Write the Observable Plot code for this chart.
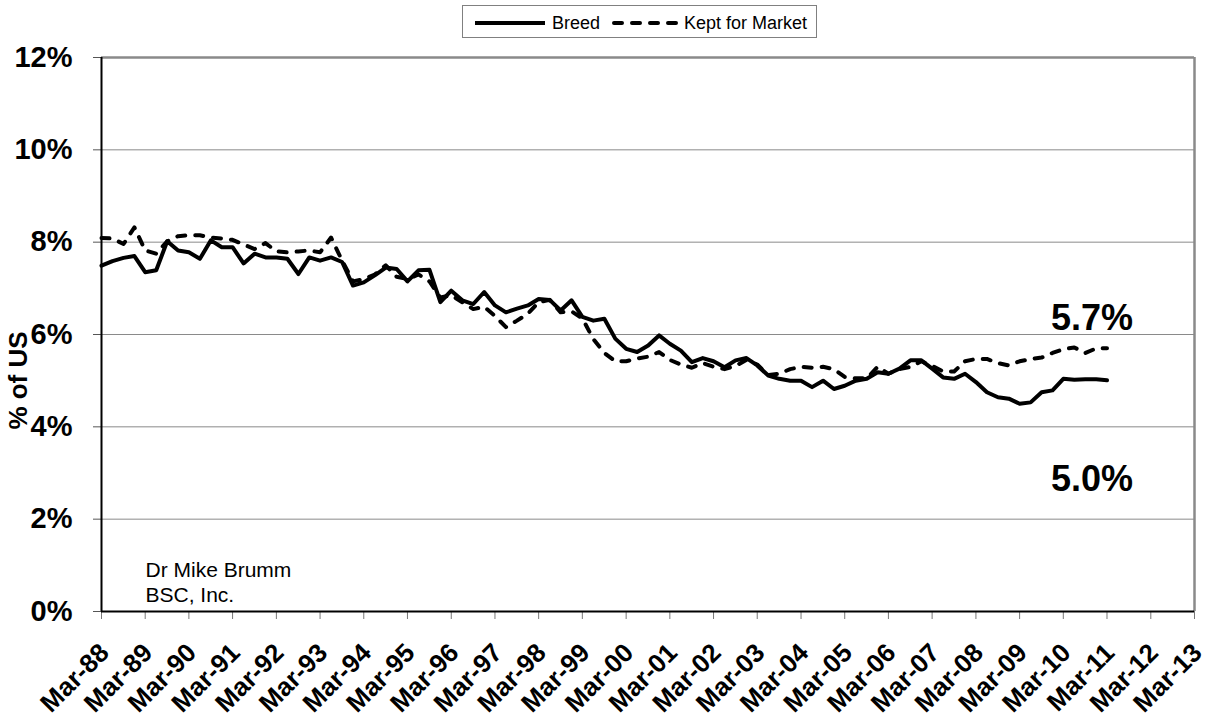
<!DOCTYPE html>
<html>
<head>
<meta charset="utf-8">
<script src="https://cdn.jsdelivr.net/npm/d3@7"></script>
<script src="https://cdn.jsdelivr.net/npm/@observablehq/plot@0.6"></script>
<style>
  body { margin: 0; background: #fff; font-family: "Liberation Sans", Arial, sans-serif; }
  #wrap { width: 1207px; height: 717px; position: relative; overflow: hidden; background: #fff; }
  #legend { position: relative; width: 1207px; height: 48px; }
  #legbox { position: absolute; left: 462px; top: 5px; width: 355px; height: 33px; border: 1px solid #808080; box-sizing: border-box; }
  .lg-sample { position: absolute; }
  .lg-text { position: absolute; font-size: 18px; line-height: 18px; color: #000; white-space: nowrap; }
</style>
</head>
<body>
<div id="wrap">
  <div id="legend"><div id="legbox"></div></div>
  <div id="chart"></div>
</div>
<script>
// ---- data (quarterly, Mar-88 .. Mar-11), % of US ----
const seriesNames = ["Breed", "Kept for Market"];
const startYear = 1988;
const breed = [
  7.49, 7.59, 7.66, 7.70, 7.35, 7.39, 8.02, 7.82, 7.78, 7.64,
  8.04, 7.89, 7.89, 7.54, 7.75, 7.67, 7.67, 7.64, 7.31, 7.67,
  7.60, 7.67, 7.57, 7.06, 7.13, 7.28, 7.45, 7.42, 7.15, 7.39,
  7.40, 6.70, 6.95, 6.74, 6.66, 6.92, 6.63, 6.48, 6.56, 6.63,
  6.77, 6.75, 6.52, 6.74, 6.38, 6.30, 6.34, 5.91, 5.69, 5.62,
  5.76, 5.98, 5.80, 5.65, 5.40, 5.49, 5.42, 5.29, 5.44, 5.49,
  5.33, 5.11, 5.04, 5.00, 5.00, 4.86, 5.00, 4.82, 4.89, 5.00,
  5.04, 5.18, 5.15, 5.26, 5.44, 5.44, 5.26, 5.07, 5.04, 5.15,
  4.97, 4.75, 4.64, 4.61, 4.50, 4.53, 4.75, 4.79, 5.04, 5.02,
  5.03, 5.03, 5.01
];
const market = [
  8.09, 8.08, 7.96, 8.32, 7.82, 7.75, 8.02, 8.13, 8.15, 8.15,
  8.10, 8.08, 8.05, 7.95, 7.85, 7.98, 7.80, 7.78, 7.80, 7.82,
  7.78, 8.10, 7.60, 7.15, 7.20, 7.30, 7.50, 7.25, 7.20, 7.30,
  7.15, 6.80, 6.85, 6.70, 6.55, 6.60, 6.40, 6.16, 6.30, 6.45,
  6.70, 6.75, 6.48, 6.50, 6.35, 5.90, 5.60, 5.42, 5.42, 5.48,
  5.52, 5.62, 5.45, 5.35, 5.28, 5.38, 5.30, 5.25, 5.32, 5.45,
  5.35, 5.12, 5.15, 5.25, 5.30, 5.28, 5.30, 5.25, 5.08, 5.05,
  5.05, 5.30, 5.15, 5.25, 5.30, 5.42, 5.32, 5.20, 5.20, 5.42,
  5.47, 5.47, 5.38, 5.33, 5.42, 5.47, 5.50, 5.60, 5.68, 5.72,
  5.60, 5.70, 5.70
];
const xTickYears = d3.range(1988, 2014);
const yTickValues = [0, 2, 4, 6, 8, 10, 12];
const yTitle = "% of US";
const creditLines = ["Dr Mike Brumm", "BSC, Inc."];

// ---- derived tables ----
const start = new Date(Date.UTC(startYear, 2, 1));
const qDate = i => d3.utcMonth.offset(start, 3 * i);
const breedRows = breed.map((v, i) => ({date: qDate(i), value: v}));
const marketRows = market.map((v, i) => ({date: qDate(i), value: v}));
const xTicks = xTickYears.map(y => new Date(Date.UTC(y, 2, 1)));
const xMin = xTicks[0], xMax = xTicks[xTicks.length - 1];
const fmt = d3.utcFormat("%b-%y");
const lastMarket = [marketRows[marketRows.length - 1]];
const lastBreed = [breedRows[breedRows.length - 1]];
const pct1 = d => d.value.toFixed(1) + "%";

const FONT = "'Liberation Sans', Arial, sans-serif";

// ---- legend (HTML above the SVG) ----
const legend = document.getElementById("legend");
const legItems = [
  {name: seriesNames[0], dash: null, x1: 475, x2: 545, tx: 552},
  {name: seriesNames[1], dash: "8,10", x1: 614, x2: 679, tx: 684}
];
legItems.forEach(it => {
  const s = d3.select(legend).append("svg").attr("class", "lg-sample")
    .attr("width", it.x2 - it.x1 + 6).attr("height", 10)
    .style("left", (it.x1 - 3) + "px").style("top", "18px");
  s.append("line").attr("x1", 3).attr("x2", it.x2 - it.x1 + 3).attr("y1", 5).attr("y2", 5)
    .attr("stroke", "#000").attr("stroke-width", 4)
    .attr("stroke-linecap", it.dash ? "round" : "butt")
    .attr("stroke-dasharray", it.dash);
  d3.select(legend).append("span").attr("class", "lg-text").text(it.name)
    .style("left", it.tx + "px").style("top", "14px");
});

// ---- chart ----
const chart = Plot.plot({
  width: 1207,
  height: 669,
  marginTop: 9,
  marginBottom: 106,
  marginLeft: 101,
  marginRight: 13,
  style: {fontFamily: FONT, background: "white", overflow: "visible"},
  x: {type: "utc", domain: [xMin, xMax], axis: null},
  y: {domain: [0, 12], axis: null},
  marks: [
    Plot.ruleY(yTickValues.filter(d => d > 0 && d < 12), {stroke: "#8a8a8a", strokeWidth: 1}),
    Plot.ruleY([12], {stroke: "#8a8a8a", strokeWidth: 2.5}),
    Plot.ruleX([xMax], {stroke: "#8a8a8a", strokeWidth: 2.5}),
    Plot.axisY({ticks: yTickValues, tickSize: 8, fill: "none", stroke: "#555", label: null}),
    Plot.axisX({ticks: xTicks, tickSize: 8, fill: "none", stroke: "#777", label: null}),
    Plot.ruleX([xMin], {stroke: "#000", strokeWidth: 2}),
    Plot.ruleY([0], {stroke: "#000", strokeWidth: 2}),
    Plot.line(marketRows, {x: "date", y: "value", stroke: "#000", strokeWidth: 4,
      strokeDasharray: "8,10", strokeLinecap: "round", strokeLinejoin: "round"}),
    Plot.line(breedRows, {x: "date", y: "value", stroke: "#000", strokeWidth: 4,
      strokeLinejoin: "round"}),
    // y tick labels
    Plot.text(yTickValues, {y: d => d, frameAnchor: "left", dx: -29, textAnchor: "end",
      text: d => d + "%", fontSize: 29, fontWeight: "bold", fill: "#000"}),
    // x tick labels
    Plot.text(xTicks, {x: d => d, frameAnchor: "bottom", rotate: -45, textAnchor: "end",
      lineAnchor: "middle", dx: 3, dy: 37, text: d => fmt(d), fontSize: 26, fontWeight: "bold", fill: "#000"}),
    // y title
    Plot.text([yTitle], {frameAnchor: "left", rotate: -90, dx: -83, dy: 46, lineAnchor: "middle",
      textAnchor: "middle", fontSize: 26, fontWeight: "bold", fill: "#000"}),
    // end labels
    Plot.text(lastMarket, {x: "date", y: "value", dx: -15, dy: -30, text: pct1,
      textAnchor: "middle", lineAnchor: "middle", fontSize: 36, fontWeight: "bold", fill: "#000"}),
    Plot.text(lastBreed, {x: "date", y: "value", dx: -15, dy: 99, text: pct1,
      textAnchor: "middle", lineAnchor: "middle", fontSize: 36, fontWeight: "bold", fill: "#000"}),
    // credit
    Plot.text([creditLines.join("\n")], {frameAnchor: "bottom-left", dx: 44, dy: -52.6, lineAnchor: "top",
      textAnchor: "start", lineHeight: 1.19, fontSize: 21, fill: "#000"})
  ]
});
document.getElementById("chart").appendChild(chart);
</script>
</body>
</html>
